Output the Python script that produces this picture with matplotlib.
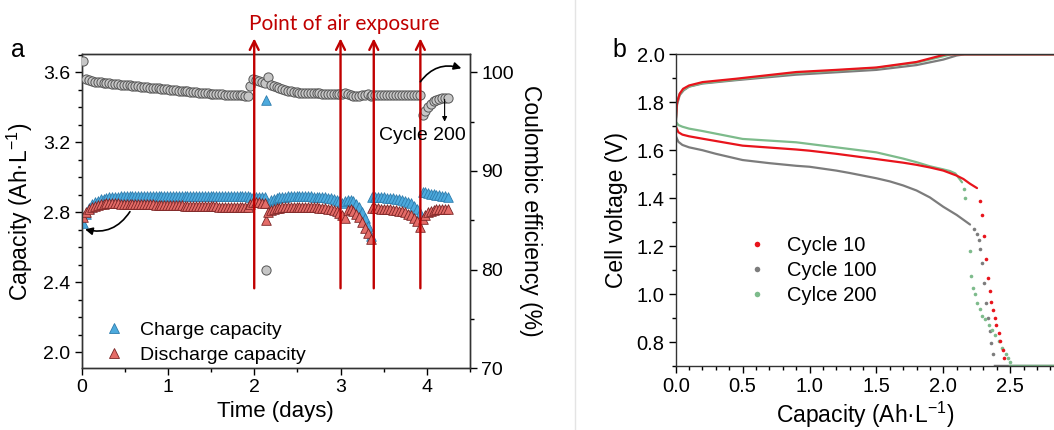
import numpy as np
import matplotlib
matplotlib.use("Agg")
import matplotlib.pyplot as plt
from matplotlib.lines import Line2D
from matplotlib.ticker import MultipleLocator

plt.rcParams['font.family'] = ['Liberation Sans', 'DejaVu Sans']
plt.rcParams['mathtext.fontset'] = 'custom'
plt.rcParams['mathtext.rm'] = 'Liberation Sans'
plt.rcParams['mathtext.default'] = 'regular'

# ---- panel a: cycling data, split in runs between air exposures ----
# (start day, end day) of each run of cycles
seg_days = [(0.02, 1.93), (1.95, 2.12), (2.14, 2.14), (2.16, 3.02),
            (3.05, 3.35), (3.37, 3.92), (3.95, 4.24)]

charge_cap = [
    [2.737, 2.790, 2.825, 2.845, 2.858, 2.867, 2.874, 2.879, 2.883, 2.886,
     2.888, 2.889, 2.890, 2.891, 2.892, 2.892, 2.893, 2.893, 2.893, 2.894,
     2.894, 2.894, 2.894, 2.895, 2.895, 2.895, 2.895, 2.895, 2.895, 2.895,
     2.895, 2.895, 2.895, 2.895, 2.895, 2.895, 2.895, 2.895, 2.895, 2.895,
     2.895, 2.895, 2.895, 2.895, 2.895, 2.894, 2.894, 2.894, 2.894, 2.894,
     2.894, 2.894, 2.894, 2.894, 2.894, 2.894, 2.894, 2.894],
    [2.885, 2.888, 2.888, 2.887, 2.886, 2.885],
    [3.442],
    [2.852, 2.868, 2.877, 2.883, 2.886, 2.888, 2.890, 2.891, 2.891, 2.892,
     2.892, 2.892, 2.892, 2.892, 2.891, 2.891, 2.890, 2.890, 2.889, 2.888,
     2.886, 2.884, 2.881, 2.877, 2.871, 2.863, 2.852],
    [2.862, 2.872, 2.870, 2.862, 2.848, 2.828, 2.800, 2.765, 2.720, 2.665],
    [2.890, 2.889, 2.888, 2.887, 2.886, 2.884, 2.883, 2.881, 2.879, 2.876,
     2.872, 2.867, 2.860, 2.851, 2.838, 2.820, 2.795],
    [2.918, 2.914, 2.910, 2.906, 2.903, 2.900, 2.897, 2.895, 2.892, 2.890],
]

discharge_cap = [
    [2.775, 2.800, 2.818, 2.830, 2.838, 2.844, 2.848, 2.850, 2.852, 2.852,
     2.852, 2.851, 2.851, 2.850, 2.850, 2.849, 2.849, 2.848, 2.848, 2.847,
     2.847, 2.846, 2.846, 2.845, 2.845, 2.844, 2.844, 2.843, 2.843, 2.842,
     2.842, 2.841, 2.841, 2.840, 2.840, 2.839, 2.839, 2.838, 2.838, 2.837,
     2.837, 2.836, 2.836, 2.835, 2.835, 2.834, 2.834, 2.833, 2.833, 2.832,
     2.832, 2.831, 2.831, 2.830, 2.830, 2.829, 2.829, 2.828],
    [2.845, 2.860, 2.858, 2.857, 2.855, 2.853],
    [2.756],
    [2.804, 2.814, 2.820, 2.824, 2.827, 2.829, 2.830, 2.831, 2.832, 2.832,
     2.832, 2.832, 2.832, 2.831, 2.831, 2.830, 2.829, 2.828, 2.827, 2.825,
     2.823, 2.820, 2.817, 2.812, 2.806, 2.797, 2.785],
    [2.770, 2.815, 2.818, 2.808, 2.793, 2.772, 2.745, 2.712, 2.680, 2.645],
    [2.823, 2.822, 2.822, 2.821, 2.820, 2.818, 2.817, 2.815, 2.812, 2.809,
     2.805, 2.800, 2.793, 2.784, 2.770, 2.750, 2.718],
    [2.760, 2.785, 2.800, 2.809, 2.815, 2.818, 2.820, 2.821, 2.821, 2.821],
]

coulombic_eff = [
    [101.17, 99.30, 99.20, 99.12, 99.06, 99.01, 98.97, 98.93, 98.90, 98.87,
     98.84, 98.81, 98.78, 98.75, 98.72, 98.69, 98.66, 98.63, 98.60, 98.57,
     98.54, 98.51, 98.48, 98.45, 98.42, 98.39, 98.36, 98.33, 98.30, 98.27,
     98.24, 98.21, 98.18, 98.15, 98.12, 98.09, 98.06, 98.03, 98.00, 97.97,
     97.94, 97.91, 97.88, 97.86, 97.84, 97.82, 97.80, 97.78, 97.76, 97.74,
     97.72, 97.70, 97.68, 97.67, 97.66, 97.65, 97.64, 97.63],
    [98.58, 99.32, 99.25, 99.12, 99.00, 98.88],
    [80.0],
    [99.49, 98.72, 98.58, 98.46, 98.36, 98.27, 98.19, 98.12, 98.06, 98.01,
     97.97, 97.94, 97.92, 97.90, 97.89, 97.88, 97.87, 97.86, 97.85, 97.84,
     97.83, 97.82, 97.82, 97.81, 97.81, 97.80, 97.80],
    [97.85, 97.80, 97.68, 97.58, 97.55, 97.58, 97.65, 97.72, 97.76, 97.57],
    [97.72, 97.71, 97.71, 97.70, 97.70, 97.70, 97.70, 97.70, 97.70, 97.70,
     97.70, 97.70, 97.70, 97.70, 97.70, 97.70, 97.70],
    [95.67, 96.10, 96.50, 96.82, 97.05, 97.20, 97.30, 97.36, 97.40, 97.42],
]

air_exposure_days = [2.0, 3.0, 3.385, 3.925]

# ---- panel b: voltage profiles ----
# charge branches (dense part)
c10_ch_cap = [0.0, 0.01, 0.03, 0.055, 0.1, 0.2, 0.45, 0.9, 1.2, 1.5, 1.8, 1.95, 2.02, 2.9]
c10_ch_v = [1.72, 1.80, 1.836, 1.856, 1.870, 1.884, 1.898, 1.926, 1.935, 1.945, 1.968, 1.99, 2.0, 2.0]
c100_ch_cap = [0.0, 0.01, 0.03, 0.06, 0.1, 0.2, 0.45, 0.9, 1.2, 1.5, 1.8, 2.0, 2.1, 2.16, 2.9]
c100_ch_v = [1.70, 1.79, 1.83, 1.85, 1.865, 1.878, 1.892, 1.915, 1.925, 1.935, 1.955, 1.978, 1.995, 2.0, 2.0]
c200_ch_cap = [0.0, 0.01, 0.03, 0.06, 0.1, 0.2, 0.45, 0.9, 1.2, 1.5, 1.8, 1.95, 2.06, 2.9]
c200_ch_v = [1.72, 1.80, 1.835, 1.853, 1.866, 1.880, 1.895, 1.922, 1.932, 1.943, 1.965, 1.985, 2.0, 2.0]

# discharge branches (dense part)
c10_dis_cap = [0.0, 0.02, 0.05, 0.1, 0.2, 0.5, 0.9, 1.0, 1.2, 1.5, 1.7, 1.8, 1.9, 2.0, 2.1,
               2.15, 2.2, 2.252]
c10_dis_v = [1.70, 1.675, 1.665, 1.658, 1.648, 1.619, 1.603, 1.598, 1.585, 1.563, 1.548,
             1.539, 1.528, 1.515, 1.494, 1.48, 1.46, 1.442]
c100_dis_cap = [0.0, 0.02, 0.05, 0.1, 0.2, 0.3, 0.5, 0.7, 0.9, 1.0, 1.2, 1.3, 1.4, 1.5, 1.6,
                1.7, 1.8, 1.9, 2.0, 2.1, 2.2]
c100_dis_v = [1.66, 1.635, 1.622, 1.612, 1.60, 1.585, 1.559, 1.546, 1.535, 1.531, 1.515,
              1.505, 1.494, 1.483, 1.47, 1.453, 1.432, 1.403, 1.364, 1.33, 1.29]
c200_dis_cap = [0.0, 0.02, 0.05, 0.1, 0.2, 0.5, 0.9, 1.0, 1.2, 1.5, 1.7, 1.8, 1.9, 2.0, 2.05,
                2.09, 2.14]
c200_dis_v = [1.72, 1.705, 1.698, 1.69, 1.68, 1.647, 1.633, 1.626, 1.612, 1.591, 1.565,
              1.55, 1.533, 1.52, 1.513, 1.503, 1.466]

# discharge tails (sparse dots)
c10_tail_cap = [2.277, 2.29, 2.307, 2.32, 2.332, 2.347, 2.36, 2.372, 2.385, 2.397, 2.415, 2.427, 2.444, 2.457]
c10_tail_v = [1.389, 1.331, 1.243, 1.148, 1.068, 1.013, 0.967, 0.932, 0.901, 0.87, 0.838, 0.803, 0.768, 0.733]
c100_tail_cap = [2.227, 2.252, 2.265, 2.277, 2.29, 2.302, 2.32, 2.332, 2.347, 2.36, 2.372]
c100_tail_v = [1.27, 1.25, 1.225, 1.19, 1.13, 1.047, 0.964, 0.90, 0.845, 0.796, 0.752]
c200_tail_cap = [2.152, 2.165, 2.197, 2.207, 2.222, 2.235, 2.252, 2.272, 2.29, 2.315, 2.34,
                 2.365, 2.39, 2.415, 2.44, 2.465, 2.48, 2.50]
c200_tail_v = [1.438, 1.40, 1.18, 1.075, 1.026, 1.0, 0.964, 0.936, 0.91, 0.894, 0.873,
               0.852, 0.83, 0.803, 0.776, 0.752, 0.733, 0.717]
# cut-off hold at 0.7 V
c100_hold_cap = [2.385, 2.9]
c200_hold_cap = [2.50, 2.9]
hold_v = [0.70, 0.70]

RED = '#e8141c'
GRAY = '#7c7c7c'
GREEN = '#7dbb8b'
DARKRED = '#c00000'

fig = plt.figure(figsize=(10.54, 4.30), dpi=100)

W, H = 1054.0, 430.0
ax = fig.add_axes([81.6 / W, (H - 368.3) / H, (470 - 81.6) / W, (368.3 - 54.3) / H])
ax2 = ax.twinx()

for i, (t0, t1) in enumerate(seg_days):
    t = np.linspace(t0, t1, len(charge_cap[i]))
    ax.scatter(t, charge_cap[i], marker='^', s=48, facecolor='#4daadd',
               edgecolor='#2d7cad', linewidth=0.6, zorder=3)
for i, (t0, t1) in enumerate(seg_days):
    t = np.linspace(t0, t1, len(discharge_cap[i]))
    ax.scatter(t, discharge_cap[i], marker='^', s=48, facecolor='#e46c68',
               edgecolor='#7a2424', linewidth=0.6, zorder=4)
for i, (t0, t1) in enumerate(seg_days):
    t = np.linspace(t0, t1, len(coulombic_eff[i]))
    ax2.scatter(t, coulombic_eff[i], marker='o', s=44, facecolor='#c6c6c6',
                edgecolor='#555555', linewidth=0.7, zorder=3)

ax.set_xlim(0, 4.5)
ax.set_ylim(1.909, 3.703)
ax2.set_ylim(70, 101.82)
ax.xaxis.set_major_locator(MultipleLocator(1))
ax.xaxis.set_minor_locator(MultipleLocator(0.5))
ax.yaxis.set_minor_locator(MultipleLocator(0.1))
ax2.yaxis.set_major_locator(MultipleLocator(10))
ax2.yaxis.set_minor_locator(MultipleLocator(5))
ax.set_yticks([2.0, 2.4, 2.8, 3.2, 3.6])
ax.set_yticklabels(['2.0', '2.4', '2.8', '3.2', '3.6'])

for a in (ax, ax2):
    a.tick_params(which='major', direction='out', length=5, width=1, labelsize=14, pad=3)
    a.tick_params(which='minor', direction='out', length=3, width=1)
    for s in a.spines.values():
        s.set_linewidth(1.0)
        s.set_color('#333333')

ax.set_xlabel('Time (days)', fontsize=16, labelpad=3)
ax.set_ylabel('Capacity (Ah·L$^{-1}$)', fontsize=16.5, labelpad=6)
ax2.set_ylabel('Coulombic efficiency (%)', fontsize=16.5, rotation=270, labelpad=20)

# air exposure arrows, drawn above the markers
for d in air_exposure_days:
    ax2.annotate('', xy=(d, 3.794), xytext=(d, 2.366), xycoords=ax.transData,
                 textcoords=ax.transData, annotation_clip=False,
                 arrowprops=dict(arrowstyle='->', color=DARKRED, lw=1.7,
                                 mutation_scale=16, shrinkA=0, shrinkB=0))
fig.text(344.5 / W, 1 - 24 / H, 'Point of air exposure', color=DARKRED,
         fontsize=15, ha='center', va='center', family=['Lato', 'DejaVu Sans'])

# axis pointers
ax2.annotate('', xy=(0.04, 2.703), xytext=(0.56, 2.804), xycoords=ax.transData,
             textcoords=ax.transData,
             arrowprops=dict(arrowstyle='-|>', color='black', lw=1.2, mutation_scale=11,
                             connectionstyle='arc3,rad=-0.35', shrinkA=0, shrinkB=0))
ax2.annotate('', xy=(4.40, 100.40), xytext=(3.925, 99.04), annotation_clip=False,
             arrowprops=dict(arrowstyle='-|>', color='black', lw=1.2, mutation_scale=11,
                             connectionstyle='arc3,rad=-0.35', shrinkA=0, shrinkB=0))
ax2.annotate('', xy=(4.206, 94.99), xytext=(4.206, 97.26),
             arrowprops=dict(arrowstyle='-|>', color='black', lw=0.8, mutation_scale=7,
                             shrinkA=0, shrinkB=0))
ax2.text(3.945, 93.64, 'Cycle 200', fontsize=14, ha='center', va='center', zorder=6)

leg_a = [Line2D([], [], ls='', marker='^', ms=7.5, markerfacecolor='#4daadd',
                markeredgecolor='#2d7cad', markeredgewidth=0.6, label='Charge capacity'),
         Line2D([], [], ls='', marker='^', ms=7.5, markerfacecolor='#e46c68',
                markeredgecolor='#7a2424', markeredgewidth=0.6, label='Discharge capacity')]
ax.legend(handles=leg_a, loc='upper left', bbox_to_anchor=(104 / W, 1 - 321 / H),
          bbox_transform=fig.transFigure, frameon=False, fontsize=14, borderpad=0,
          borderaxespad=0, handlelength=1.0, handletextpad=0.85, labelspacing=0.41)

fig.text(11 / W, 1 - 57 / H, 'a', fontsize=18, ha='left', va='baseline')

# ---- panel b (right part is cut by the figure edge) ----
bx = fig.add_axes([675.7 / W, (H - 366) / H, 2.84 * 133.8 / W, (366 - 54.3) / H])

curves = [
    (c100_ch_cap, c100_ch_v, c100_dis_cap, c100_dis_v, c100_tail_cap, c100_tail_v, GRAY),
    (c200_ch_cap, c200_ch_v, c200_dis_cap, c200_dis_v, c200_tail_cap, c200_tail_v, GREEN),
    (c10_ch_cap, c10_ch_v, c10_dis_cap, c10_dis_v, c10_tail_cap, c10_tail_v, RED),
]
for ch_c, ch_v, dis_c, dis_v, tail_c, tail_v, col in curves:
    bx.plot(ch_c, ch_v, color=col, lw=1.6, solid_capstyle='round')
    bx.plot(dis_c, dis_v, color=col, lw=1.6, solid_capstyle='round')
    bx.plot(tail_c, tail_v, ls='', marker='o', ms=2.6, color=col, mew=0)
bx.plot(c100_hold_cap, hold_v, color=GRAY, lw=2.5)
bx.plot(c200_hold_cap, hold_v, color=GREEN, lw=2.5)

bx.set_xlim(0, 2.84)
bx.set_ylim(0.7, 2.0)
bx.xaxis.set_major_locator(MultipleLocator(0.5))
bx.xaxis.set_minor_locator(MultipleLocator(0.1))
bx.yaxis.set_major_locator(MultipleLocator(0.2))
bx.yaxis.set_minor_locator(MultipleLocator(0.1))
bx.tick_params(which='major', direction='out', length=5, width=1, labelsize=14.5, pad=3)
bx.tick_params(which='minor', direction='out', length=3, width=1)
for s in bx.spines.values():
    s.set_linewidth(1.0)
    s.set_color('#333333')
bx.set_xlabel('Capacity (Ah·L$^{-1}$)', fontsize=16.5, labelpad=3)
bx.set_ylabel('Cell voltage (V)', fontsize=16.5, labelpad=6)

leg_b = [Line2D([], [], ls='', marker='o', ms=4, mew=0, color=RED, label='Cycle 10'),
         Line2D([], [], ls='', marker='o', ms=4, mew=0, color=GRAY, label='Cycle 100'),
         Line2D([], [], ls='', marker='o', ms=4, mew=0, color=GREEN, label='Cylce 200')]
bx.legend(handles=leg_b, loc='upper left', bbox_to_anchor=(747 / W, 1 - 236 / H),
          bbox_transform=fig.transFigure, frameon=False, fontsize=14.5, borderpad=0,
          borderaxespad=0, handlelength=1.0, handletextpad=1.0, labelspacing=0.3)

fig.text(612 / W, 1 - 57 / H, 'b', fontsize=18, ha='left', va='baseline')

# faint divider between the panels
fig.add_artist(Line2D([575 / W, 575 / W], [0, 1], transform=fig.transFigure,
                      color='#e4e4e4', lw=1))

fig.savefig('out.png', dpi=100)
